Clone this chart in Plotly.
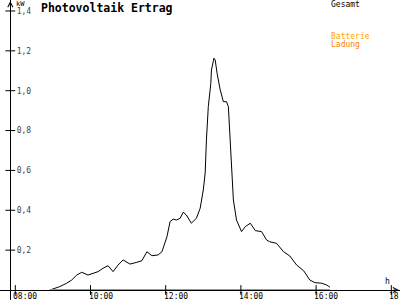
import plotly.graph_objects as go
import pandas as pd

# ---- data ----
times = ["08:55", "09:11", "09:22", "09:30", "09:38", "09:46", "09:56", "10:07", "10:12",
         "10:20", "10:28", "10:36", "10:44", "10:52", "11:03", "11:14", "11:22", "11:30",
         "11:38", "11:48", "11:54", "12:02", "12:07", "12:12", "12:17", "12:23", "12:28",
         "12:33", "12:41", "12:49", "12:55", "13:00", "13:03", "13:05", "13:08", "13:12",
         "13:13", "13:17", "13:19", "13:22", "13:27", "13:32", "13:37", "13:40", "13:43",
         "13:45", "13:48", "13:53", "14:01", "14:07", "14:15", "14:23", "14:33", "14:41",
         "14:46", "14:57", "15:08", "15:18", "15:29", "15:40", "15:50", "15:58", "16:09",
         "16:17", "16:22"]
gesamt_kw = [0.0, 0.017, 0.034, 0.050, 0.075, 0.089, 0.075, 0.089, 0.092,
             0.109, 0.122, 0.092, 0.125, 0.151, 0.130, 0.139, 0.147, 0.192,
             0.172, 0.176, 0.192, 0.267, 0.343, 0.356, 0.351, 0.360, 0.390,
             0.376, 0.335, 0.360, 0.410, 0.502, 0.587, 0.753, 0.920, 1.037,
             1.104, 1.163, 1.154, 1.087, 1.004, 0.945, 0.945, 0.920, 0.753,
             0.586, 0.452, 0.351, 0.293, 0.318, 0.335, 0.298, 0.293, 0.251,
             0.242, 0.234, 0.192, 0.171, 0.125, 0.097, 0.050, 0.037, 0.034,
             0.025, 0.014]
ladung_kw = [0.0 for _ in times]
x_ticks = ["08:00", "10:00", "12:00", "14:00", "16:00", "18:00"]
y_ticks = [0.2, 0.4, 0.6, 0.8, 1.0, 1.2, 1.4]

DAY = "2024-06-01 "
t = pd.to_datetime([DAY + s for s in times])
xt = pd.to_datetime([DAY + s for s in x_ticks])

# pixel geometry of the reference
W, H = 400, 300
X0_PX, PX_PER_H = 15.3, 37.6      # 08:00 position, px per hour
Y0_PX, PX_PER_KW = 290.0, 199.3   # 0 kW position, px per kW
YAX_PX = 10.3
base = pd.Timestamp(DAY + "08:00")
x_left = base - pd.Timedelta(hours=X0_PX / PX_PER_H)
x_right = base + pd.Timedelta(hours=(W - X0_PX) / PX_PER_H)
y_bot = -(H - Y0_PX) / PX_PER_KW
y_top = Y0_PX / PX_PER_KW
yax_x = base - pd.Timedelta(hours=(X0_PX - YAX_PX) / PX_PER_H)

MONO = "DejaVu Sans Mono"
ORANGE = "#ff8000"

fig = go.Figure()
fig.add_trace(go.Scatter(x=t, y=gesamt_kw, mode="lines",
                         line=dict(color="black", width=1), hoverinfo="skip"))
fig.add_trace(go.Scatter(x=t, y=ladung_kw, mode="lines",
                         line=dict(color=ORANGE, width=2), hoverinfo="skip"))
# tick crosses
fig.add_trace(go.Scatter(x=xt, y=[0] * len(xt), mode="markers",
                         marker=dict(symbol="line-ns", size=7,
                                     line=dict(color="black", width=1)),
                         hoverinfo="skip"))
fig.add_trace(go.Scatter(x=[yax_x] * len(y_ticks), y=y_ticks, mode="markers",
                         marker=dict(symbol="line-ew", size=7,
                                     line=dict(color="black", width=1)),
                         hoverinfo="skip"))

fig.update_layout(
    width=W, height=H, margin=dict(l=0, r=0, t=0, b=0),
    paper_bgcolor="white", plot_bgcolor="white", showlegend=False,
    separators=",.",
    font=dict(family=MONO, size=8, color="black"),
    xaxis=dict(range=[x_left, x_right], showgrid=False, zeroline=False,
               showline=True, linecolor="black", linewidth=1,
               anchor="free", position=(H - Y0_PX) / H,
               tickvals=xt, showticklabels=False, ticks=""),
    yaxis=dict(range=[y_bot, y_top], showgrid=False, zeroline=False,
               showline=True, linecolor="black", linewidth=1,
               anchor="free", position=YAX_PX / W,
               tickvals=y_ticks, tickformat=".1f", ticks="",
               ticklabelposition="inside", ticklabelstandoff=4,
               tickfont=dict(family=MONO, size=8)),
)

ann = []
# x tick labels (positioned on the x axis scale)
for tv, tl in zip(xt, x_ticks):
    ann.append(dict(xref="x", yref="paper", x=tv, y=1 - 296.5 / H, text=tl,
                    showarrow=False, xanchor="left", yanchor="middle", xshift=-4,
                    font=dict(family=MONO, size=8)))
# axis arrows
ann.append(dict(xref="paper", yref="paper", x=YAX_PX / W, y=1, ax=0, ay=8,
                showarrow=True, arrowhead=5, arrowsize=1, arrowwidth=1,
                arrowcolor="black", text=""))
ann.append(dict(xref="paper", yref="paper", x=1, y=(H - Y0_PX) / H, ax=-8, ay=0,
                showarrow=True, arrowhead=5, arrowsize=1, arrowwidth=1,
                arrowcolor="black", text=""))
ann.append(dict(xref="paper", yref="paper", x=14 / W, y=1 - 4 / H, text="kW",
                showarrow=False, xanchor="left", yanchor="middle",
                font=dict(family=MONO, size=7)))
ann.append(dict(xref="paper", yref="paper", x=387 / W, y=1 - 281.5 / H, text="h",
                showarrow=False, xanchor="center", yanchor="middle",
                font=dict(family=MONO, size=8)))
ann.append(dict(xref="paper", yref="paper", x=39 / W, y=1 - 7.5 / H,
                text="<b>Photovoltaik Ertrag</b>", showarrow=False,
                xanchor="left", yanchor="middle",
                font=dict(family=MONO, size=11.5)))
ann.append(dict(xref="paper", yref="paper", x=329 / W, y=1 - 4.5 / H, text="Gesamt",
                showarrow=False, xanchor="left", yanchor="middle",
                font=dict(family=MONO, size=8, color="black")))
ann.append(dict(xref="paper", yref="paper", x=329 / W, y=1 - 36 / H, text="Batterie",
                showarrow=False, xanchor="left", yanchor="middle",
                font=dict(family=MONO, size=8, color="#ffa500")))
ann.append(dict(xref="paper", yref="paper", x=329 / W, y=1 - 44 / H, text="Ladung",
                showarrow=False, xanchor="left", yanchor="middle",
                font=dict(family=MONO, size=8, color=ORANGE)))
fig.update_layout(annotations=ann)

fig.write_html("out.html")
